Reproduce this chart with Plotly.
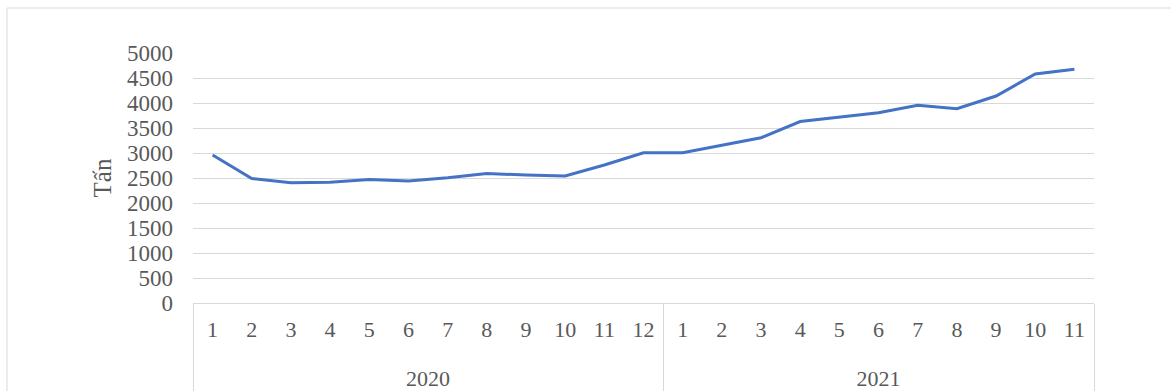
import plotly.graph_objects as go

# Monthly volume (tấn), Jan 2020 – Nov 2021
years = ["2020"] * 12 + ["2021"] * 11
months = [str(m) for m in range(1, 13)] + [str(m) for m in range(1, 12)]
volume = [2960, 2490, 2405, 2415, 2470, 2440, 2505, 2590, 2560, 2540, 2760, 3005,
          3005, 3160, 3305, 3630, 3710, 3805, 3955, 3885, 4140, 4580, 4675]
y_ticks = list(range(0, 5001, 500))

FONT = "Liberation Serif, Times New Roman, serif"
GRAY_TEXT = "#595959"
GRID = "#d9d9d9"

# year labels get a leading blank line so they sit lower under the months
year_labels = ["<br>" + y for y in years]

fig = go.Figure(
    go.Scatter(
        x=[year_labels, months],
        y=volume,
        mode="lines",
        line=dict(color="#4472C4", width=3),
        hoverinfo="y",
    )
)

W, H = 1171, 391
L, R, T, B = 193, 77, 53, 88
pw, ph = W - L - R, H - T - B


def px_x(p):
    return (p - L) / pw


def px_y(p):
    return (H - B - p) / ph


fig.update_layout(
    width=W,
    height=H,
    margin=dict(l=L, r=R, t=T, b=B, autoexpand=False),
    paper_bgcolor="white",
    plot_bgcolor="white",
    showlegend=False,
    font=dict(family=FONT, size=22, color=GRAY_TEXT),
    shapes=[
        # chart frame
        dict(
            type="rect",
            xref="paper", yref="paper",
            x0=px_x(7), x1=px_x(W + 5),
            y0=px_y(H + 5), y1=px_y(8),
            line=dict(color=GRID, width=1),
            fillcolor="rgba(0,0,0,0)",
            layer="below",
        )
    ],
)

fig.update_xaxes(
    type="multicategory",
    range=[-0.5, len(months) - 0.5],
    automargin=False,
    showline=True,
    linecolor=GRID,
    linewidth=1,
    showgrid=False,
    ticks="",
    ticklabelstandoff=7,
    showdividers=True,
    dividercolor=GRID,
    dividerwidth=1,
    tickfont=dict(family=FONT, size=22, color=GRAY_TEXT),
)

fig.update_yaxes(
    range=[0, 5000],
    tickvals=y_ticks,
    automargin=False,
    showgrid=True,
    gridcolor=GRID,
    gridwidth=1,
    zeroline=False,
    showline=False,
    ticks="",
    ticklabelstandoff=19,
    tickfont=dict(family=FONT, size=23, color=GRAY_TEXT),
    title=dict(text="Tấn", font=dict(family=FONT, size=25, color=GRAY_TEXT), standoff=8),
)

fig.write_html("out.html")
